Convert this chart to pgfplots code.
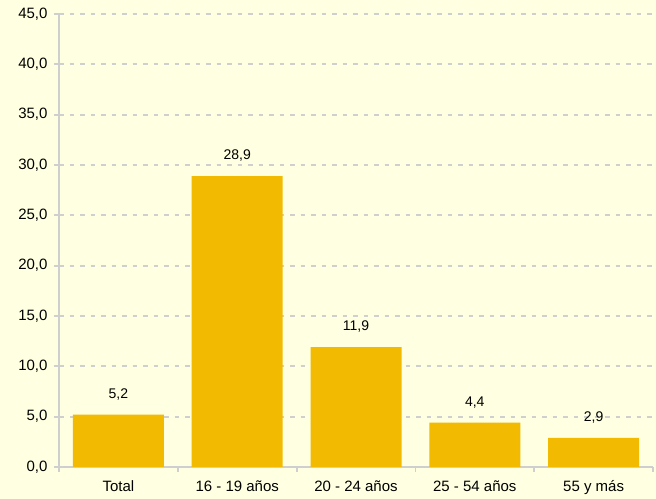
\documentclass[border=0pt]{standalone}
\usepackage{pgfplots}
\pgfplotsset{compat=1.18}
\usepackage{fontspec}
\setmainfont{Liberation Sans}
\definecolor{bg}{HTML}{FFFFE1}
\definecolor{barc}{HTML}{F2BA00}
\definecolor{gridc}{HTML}{CFCFCF}
\begin{document}
\begin{tikzpicture}
\fill[bg] (0,0) rectangle (656bp,499bp);
\useasboundingbox (0,0) rectangle (656bp,499bp);
\begin{axis}[
  at={(59bp,32bp)}, anchor=south west,
  scale only axis, width=594bp, height=453bp,
  ymin=0, ymax=45, ytick={0,5,...,45},
  xmin=-0.5, xmax=4.5,
  xtick={0,1,2,3,4},
  xticklabels={Total,16 - 19 años,20 - 24 años,25 - 54 años,55 y más},
  minor xtick={-0.5,0.5,1.5,2.5,3.5,4.5},
  axis x line*=bottom, axis y line*=left,
  axis line style={gridc, line width=1.8bp},
  x axis line style={-}, y axis line style={-},
  major x tick style={draw=none},
  minor x tick style={gridc, line width=1.8bp},
  minor tick length=5bp,
  major tick length=5bp,
  ytick style={gridc, line width=1.8bp},
  tick align=outside,
  ymajorgrids,
  major grid style={gridc, line width=2.2bp, dash pattern=on 4.5bp off 6bp},
  ticklabel style={font=\fontsize{15bp}{17bp}\selectfont, text=black},
  yticklabel style={xshift=-3bp},
  xticklabel style={yshift=-5bp},
  /pgf/number format/.cd, use comma, fixed, fixed zerofill, precision=1, assume math mode=true,
  /pgfplots/.cd,
  ybar, bar width=91bp,
  nodes near coords,
  every node near coord/.append style={font=\fontsize{14bp}{16bp}\selectfont, text=black, yshift=11bp},
]
\addplot[fill=barc, draw=none] coordinates {(0,5.2) (1,28.9) (2,11.9) (3,4.4) (4,2.9)};
\end{axis}
\end{tikzpicture}
\end{document}
